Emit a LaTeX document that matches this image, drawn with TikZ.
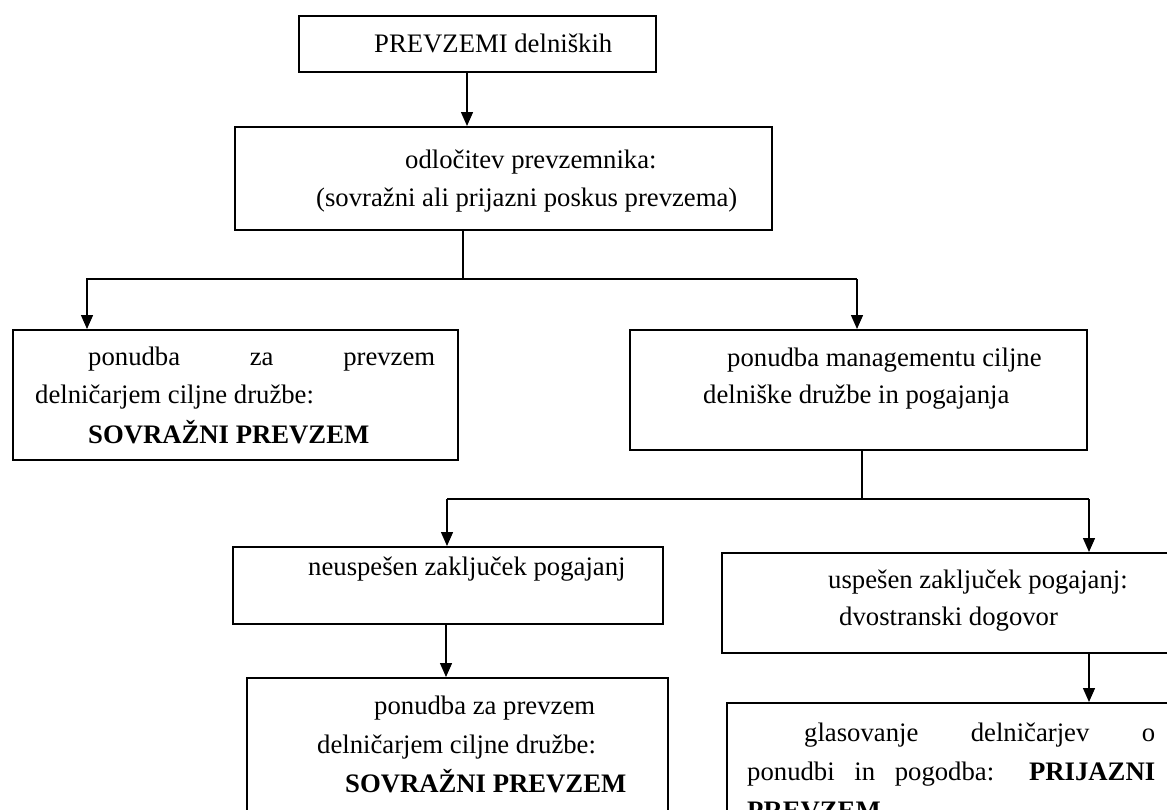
\documentclass[tikz,border=0pt]{standalone}
\usepackage{fontspec}
\setmainfont{Liberation Serif}
\usetikzlibrary{arrows.meta}
\begin{document}
\begin{tikzpicture}[x=1pt,y=-1pt,
  boxnode/.style={draw=black, line width=1.8pt, rectangle, inner sep=0pt, anchor=north west},
  txt/.style={anchor=base west, inner sep=0pt, font=\fontsize{26.7pt}{39pt}\selectfont},
  conn/.style={draw=black, line width=1.4pt},
  arr/.style={conn, -{Triangle[width=12pt,length=14pt]}}]
\clip (0,0) rectangle (1167,809);
\fill[white] (0,0) rectangle (1167,809);
% boxes
\node[boxnode, minimum width=357pt, minimum height=56pt] (b1) at (298,15) {};
\node[boxnode, minimum width=537pt, minimum height=103pt] (b2) at (234,126) {};
\node[boxnode, minimum width=445pt, minimum height=130pt] (b3) at (12,329) {};
\node[boxnode, minimum width=457pt, minimum height=120pt] (b4) at (629,329) {};
\node[boxnode, minimum width=430pt, minimum height=77pt] (b5) at (232,546) {};
\node[boxnode, minimum width=500pt, minimum height=100pt] (b6) at (721,552) {};
\node[boxnode, minimum width=421pt, minimum height=200pt] (b7) at (246,677) {};
\node[boxnode, minimum width=500pt, minimum height=200pt] (b8) at (726,702) {};
% texts
\node[txt] (t1) at (374,52) {PREVZEMI delniških};
\node[txt] (t2a) at (405,168) {odločitev prevzemnika:};
\node[txt] (t2b) at (316,206) {(sovražni ali prijazni poskus prevzema)};
\node[txt] (t3a) at (88,365) {\makebox[347pt][s]{ponudba za prevzem}};
\node[txt] (t3b) at (35,403) {delničarjem ciljne družbe:};
\node[txt] (t3c) at (88,443) {\textbf{SOVRAŽNI PREVZEM}};
\node[txt] (t4a) at (727,366) {ponudba managementu ciljne};
\node[txt] (t4b) at (703,403) {delniške družbe in pogajanja};
\node[txt] (t5) at (308,575) {neuspešen zaključek pogajanj};
\node[txt] (t6a) at (828,588) {uspešen zaključek pogajanj:};
\node[txt] (t6b) at (839,625) {dvostranski dogovor};
\node[txt] (t7a) at (374,714) {ponudba za prevzem};
\node[txt] (t7b) at (317,753) {delničarjem ciljne družbe:};
\node[txt] (t7c) at (345,792) {\textbf{SOVRAŽNI PREVZEM}};
\node[txt] (t8a) at (804,741) {\makebox[351pt][s]{glasovanje delničarjev o}};
\node[txt] (t8b) at (747,780) {\makebox[408pt][s]{ponudbi in pogodba: \textbf{PRIJAZNI}}};
\node[txt] (t8c) at (747,819) {\textbf{PREVZEM}};
% connector coordinates
\coordinate (c1) at (467,0);
\coordinate (c2) at (463,279);
\coordinate (l1) at (87,279);
\coordinate (r1) at (857,279);
\coordinate (c3) at (862,499);
\coordinate (l2) at (447,499);
\coordinate (r2) at (1089,499);
\coordinate (c5) at (446,0);
% connectors
\draw[arr] (c1 |- b1.south) -- (c1 |- b2.north);
\draw[conn] (c2 |- b2.south) -- (c2);
\draw[conn] ([yshift=-3pt]l1) -- (l1) -- (r1);
\draw[arr] (l1) -- (l1 |- b3.north);
\draw[arr] (r1) -- (r1 |- b4.north);
\draw[conn] (c3 |- b4.south) -- (c3);
\draw[conn] (l2) -- (r2);
\draw[arr] (l2) -- (l2 |- b5.north);
\draw[arr] (r2) -- (r2 |- b6.north);
\draw[arr] (c5 |- b5.south) -- (c5 |- b7.north);
\draw[arr] (r2 |- b6.south) -- (r2 |- b8.north);
\end{tikzpicture}
\end{document}
